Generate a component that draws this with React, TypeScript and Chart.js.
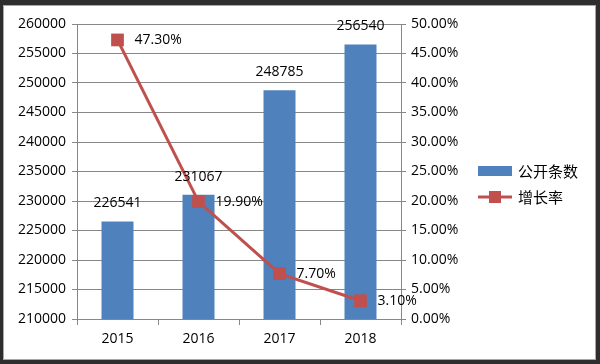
import React, { useEffect, useRef } from "react";
import { Chart, registerables } from "chart.js";

Chart.register(...registerables);

const categories = ["2015", "2016", "2017", "2018"];
const countValues = [226541, 231067, 248785, 256540];
const growthValues = [47.3, 19.9, 7.7, 3.1];
const countLabel = "公开条数";
const growthLabel = "增长率";

const BLUE = "#4F81BD";
const RED = "#C0504D";
const GRID = "#878787";
const FONT = "'Open Sans', 'Liberation Sans', sans-serif";
const CJK = "'Noto Sans CJK SC', sans-serif";

const framePlugin = {
  id: "frame",
  beforeDraw(chart: any) {
    const ctx = chart.ctx;
    const w = chart.width;
    const h = chart.height;
    ctx.save();
    ctx.fillStyle = "#2e2e2e";
    ctx.fillRect(0, 0, w, h);
    ctx.fillStyle = "#ffffff";
    ctx.fillRect(3, 5, w - 7, h - 9);
    ctx.strokeStyle = "#a8a8a8";
    ctx.lineWidth = 1;
    ctx.strokeRect(3.5, 5.5, w - 8, h - 10);
    ctx.restore();
  },
};

const labelsPlugin = {
  id: "valueLabels",
  afterDatasetsDraw(chart: any) {
    const ctx = chart.ctx;
    ctx.save();
    ctx.font = `14px ${FONT}`;
    ctx.fillStyle = "#000";
    const barMeta = chart.getDatasetMeta(0);
    barMeta.data.forEach((el: any, i: number) => {
      ctx.textAlign = "center";
      ctx.textBaseline = "middle";
      ctx.fillText(String(countValues[i]), el.x, el.y - 18);
    });
    const lineMeta = chart.getDatasetMeta(1);
    lineMeta.data.forEach((el: any, i: number) => {
      ctx.textAlign = "left";
      ctx.textBaseline = "middle";
      ctx.fillText(growthValues[i].toFixed(2) + "%", el.x + 17, el.y);
    });
    ctx.restore();
  },
};

const legendPlugin = {
  id: "customLegend",
  afterDraw(chart: any) {
    const ctx = chart.ctx;
    const x0 = 478;
    ctx.save();
    ctx.fillStyle = BLUE;
    ctx.fillRect(x0, 166, 34, 10);
    ctx.strokeStyle = RED;
    ctx.lineWidth = 3;
    ctx.beginPath();
    ctx.moveTo(x0, 197);
    ctx.lineTo(x0 + 34, 197);
    ctx.stroke();
    ctx.fillStyle = RED;
    ctx.fillRect(x0 + 11, 191, 12, 12);
    ctx.fillStyle = "#000";
    ctx.font = `15px ${CJK}`;
    ctx.textAlign = "left";
    ctx.textBaseline = "middle";
    ctx.fillText(countLabel, 518, 171);
    ctx.fillText(growthLabel, 518, 197);
    ctx.restore();
  },
};

export default function App() {
  const ref = useRef<HTMLCanvasElement>(null);
  useEffect(() => {
    if (!ref.current) return;
    const chart = new Chart(ref.current, {
      type: "bar",
      data: {
        labels: categories,
        datasets: [
          {
            type: "bar",
            label: countLabel,
            data: countValues,
            backgroundColor: BLUE,
            borderWidth: 0,
            barPercentage: 0.395,
            categoryPercentage: 1,
            yAxisID: "y",
            order: 2,
          },
          {
            type: "line",
            label: growthLabel,
            data: growthValues,
            borderColor: RED,
            backgroundColor: RED,
            borderWidth: 3,
            pointStyle: "rect",
            pointRadius: 9,
            pointBorderWidth: 0,
            pointBackgroundColor: RED,
            tension: 0,
            yAxisID: "y1",
            order: 1,
          } as any,
        ],
      },
      options: {
        responsive: false,
        animation: false,
        devicePixelRatio: 1,
        layout: { padding: { left: 0, top: 24, right: 129, bottom: 15 } },
        plugins: {
          legend: { display: false },
          tooltip: { enabled: false },
        },
        scales: {
          x: {
            offset: true,
            grid: {
              display: true,
              offset: true,
              drawOnChartArea: false,
              drawTicks: true,
              tickLength: 6,
              color: GRID,
            },
            border: { display: true, color: GRID },
            ticks: { color: "#000", font: { family: FONT, size: 14 }, padding: 6 },
            afterFit(scale: any) {
              scale.height = 30;
            },
          },
          y: {
            position: "left",
            min: 210000,
            max: 260000,
            ticks: {
              stepSize: 5000,
              color: "#000",
              font: { family: FONT, size: 14 },
              padding: 6,
              callback: (v: any) => String(v),
            },
            grid: { color: GRID, tickLength: 5 },
            border: { display: true, color: GRID },
            afterFit(scale: any) {
              scale.width = 77;
            },
          },
          y1: {
            position: "right",
            min: 0,
            max: 50,
            ticks: {
              stepSize: 5,
              color: "#000",
              font: { family: FONT, size: 14 },
              padding: 5,
              callback: (v: any) => Number(v).toFixed(2) + "%",
            },
            grid: { drawOnChartArea: false, color: GRID, tickLength: 5 },
            border: { display: true, color: GRID },
            afterFit(scale: any) {
              scale.width = 70;
            },
          },
        },
      },
      plugins: [framePlugin, labelsPlugin, legendPlugin],
    });
    return () => chart.destroy();
  }, []);
  return (
    <div style={{ position: "absolute", left: 0, top: 0, width: 600, height: 364 }}>
      <canvas ref={ref} width={600} height={364} style={{ width: 600, height: 364 }} />
    </div>
  );
}
